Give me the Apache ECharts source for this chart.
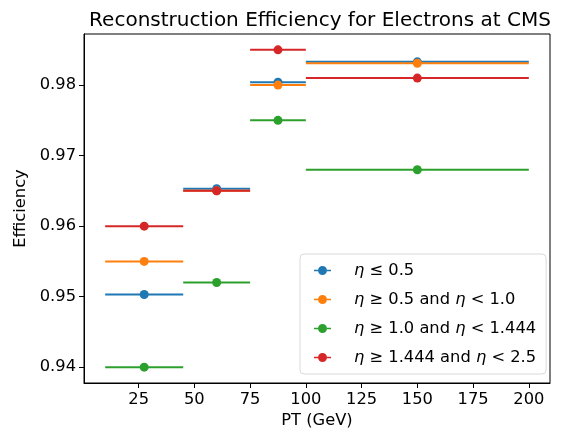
<!DOCTYPE html>
<html>
<head>
<meta charset="utf-8">
<script src="https://cdn.jsdelivr.net/npm/echarts@6/dist/echarts.min.js"></script>
<style>html,body{margin:0;padding:0;background:#fff}#c{width:562px;height:429px}</style>
</head>
<body>
<div id="c"></div>
<script>
// bins (center, half width)
const binCenters = [27.5, 60, 87.5, 150];
const binHalfWidths = [17.5, 15, 12.5, 50];
const seriesNames = ['η ≤ 0.5', 'η ≥ 0.5 and η < 1.0', 'η ≥ 1.0 and η < 1.444', 'η ≥ 1.444 and η < 2.5'];
const effEta0 = [0.9503, 0.9653, 0.9804, 0.9833];
const effEta1 = [0.955, 0.965, 0.980, 0.9831];
const effEta2 = [0.940, 0.952, 0.975, 0.968];
const effEta3 = [0.960, 0.965, 0.985, 0.981];
const xTicks = [25, 50, 75, 100, 125, 150, 175, 200];
const yTicks = [0.94, 0.95, 0.96, 0.97, 0.98];

const colors = ['#1f77b4', '#ff7f0e', '#2ca02c', '#d62728'];
const allVals = [effEta0, effEta1, effEta2, effEta3];
const FONT = 'DejaVu Sans';

function mkSeries(name, vals, color, idx) {
  return {
    type: 'custom',
    name: name,
    z: 2 + idx,
    data: binCenters.map((c, i) => [c, vals[i], binHalfWidths[i]]),
    encode: {x: 0, y: 1},
    renderItem: function (params, api) {
      const x = api.value(0), y = api.value(1), h = api.value(2);
      const p0 = api.coord([x - h, y]);
      const p1 = api.coord([x + h, y]);
      const pc = api.coord([x, y]);
      return {
        type: 'group',
        children: [
          {type: 'line', shape: {x1: p0[0], y1: p0[1], x2: p1[0], y2: p1[1]}, style: {stroke: color, lineWidth: 2}},
          {type: 'circle', shape: {cx: pc[0], cy: pc[1], r: 4.5}, style: {fill: color}}
        ]
      };
    },
    itemStyle: {color: color}
  };
}

const icon = 'path://M0,4.3 L4,4.3 L4,5.7 L0,5.7 Z M13,4.3 L17,4.3 L17,5.7 L13,5.7 Z M4,5 A4.5,4.5 0 1 0 13,5 A4.5,4.5 0 1 0 4,5 Z';

const chart = echarts.init(document.getElementById('c'));
chart.setOption({
  animation: false,
  title: {
    text: 'Reconstruction Efficiency for Electrons at CMS',
    left: 315, top: 6, textAlign: 'center',
    textStyle: {fontFamily: FONT, fontSize: 20, fontWeight: 'normal', color: '#000'}
  },
  grid: {left: 84, right: 12, top: 34, bottom: 46, show: true, borderColor: '#000', borderWidth: 1,
    containLabel: false, outerBoundsMode: 'none'},
  legend: {
    orient: 'vertical',
    left: 300, top: 254,
    padding: [8, 10, 8, 14],
    itemGap: 12,
    itemWidth: 17, itemHeight: 10,
    borderColor: '#d9d9d9', borderWidth: 1, borderRadius: 4,
    backgroundColor: 'rgba(255,255,255,0.8)',
    data: seriesNames.map((n, i) => ({name: n, icon: icon, itemStyle: {color: colors[i]}})),
    formatter: function (name) {
      return '{g|}' + name.replace(/η/g, '{i|η}');
    },
    textStyle: {
      fontFamily: FONT, fontSize: 16.3, color: '#000', lineHeight: 17,
      rich: {
        g: {width: 18},
        i: {fontFamily: FONT, fontStyle: 'italic', fontSize: 16.3, color: '#000', lineHeight: 17}
      }
    }
  },
  xAxis: {
    type: 'value',
    min: 0.5, max: 209.5,
    name: 'PT (GeV)', nameLocation: 'middle', nameGap: 29,
    nameTextStyle: {fontFamily: FONT, fontSize: 16.3, color: '#000'},
    axisLine: {show: true, onZero: false, lineStyle: {color: '#000', width: 1}},
    axisTick: {show: true, customValues: xTicks, length: 5, inside: false, lineStyle: {color: '#000'}},
    axisLabel: {customValues: xTicks, fontFamily: FONT, fontSize: 16.3, color: '#000', margin: 9},
    splitLine: {show: false}
  },
  yAxis: {
    type: 'value',
    min: 0.93775, max: 0.98725,
    name: 'Efficiency', nameLocation: 'middle', nameGap: 52,
    nameTextStyle: {fontFamily: FONT, fontSize: 16.3, color: '#000'},
    axisLine: {show: true, onZero: false, lineStyle: {color: '#000', width: 1}},
    axisTick: {show: true, customValues: yTicks, length: 5, lineStyle: {color: '#000'}},
    axisLabel: {customValues: yTicks, fontFamily: FONT, fontSize: 16.3, color: '#000', margin: 8,
      formatter: v => v.toFixed(2)},
    splitLine: {show: false}
  },
  series: seriesNames.map((n, i) => mkSeries(n, allVals[i], colors[i], i))
});
</script>
</body>
</html>
